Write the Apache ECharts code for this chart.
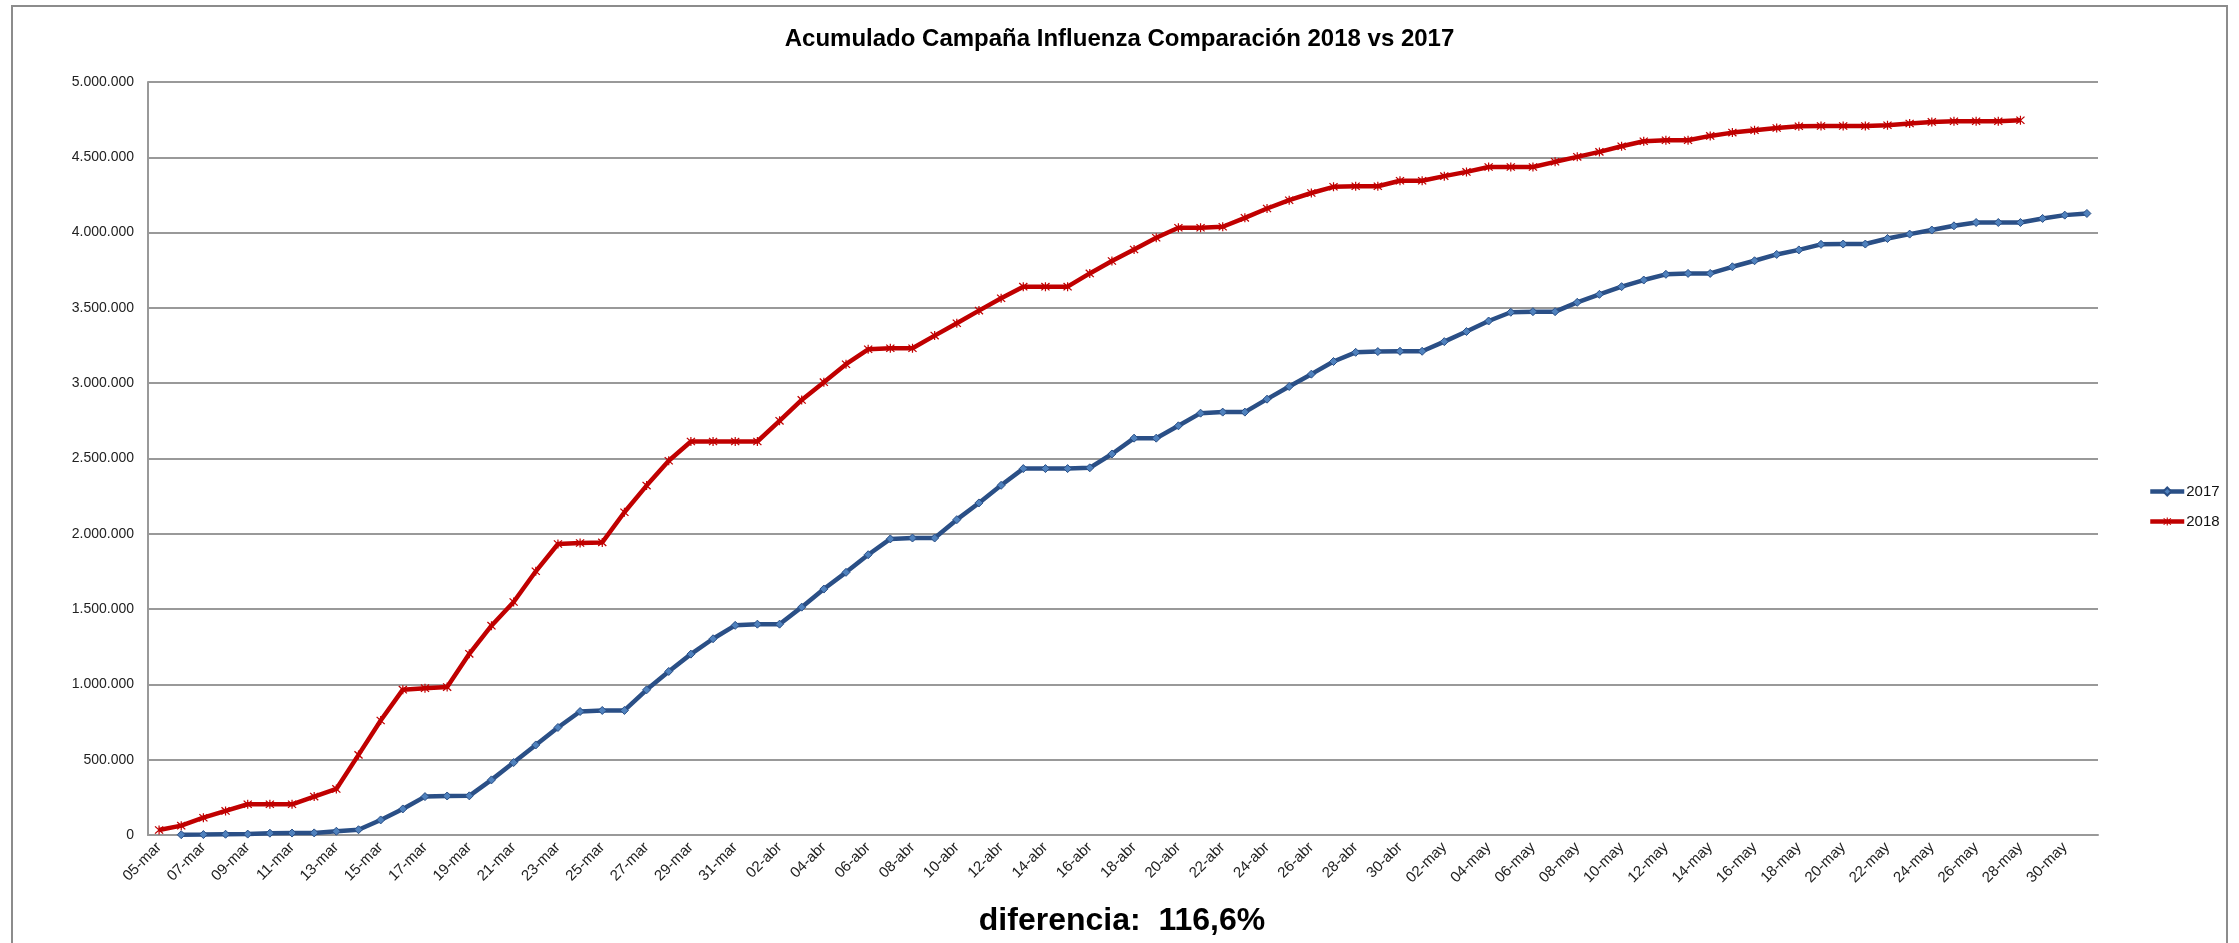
<!DOCTYPE html>
<html>
<head>
<meta charset="utf-8">
<script src="https://cdn.jsdelivr.net/npm/echarts@6/dist/echarts.min.js"></script>
<style>
  html, body { margin: 0; padding: 0; background: #fff; }
  #chart { width: 2239px; height: 943px; }
</style>
</head>
<body>
<div id="chart"></div>
<script>
// Days 05-mar .. 31-may, one category per day
const months = [ [ 'mar', 5, 31 ], [ 'abr', 1, 30 ], [ 'may', 1, 31 ] ];
const days = [];
months.forEach( ( [ name, from, to ] ) => {
  for ( let d = from; d <= to; d++ )
    days.push( ( d < 10 ? '0' : '' ) + d + '-' + name );
} );

// 2017 starts on 06-mar
const values2017 = [
  null, 2000, 3000, 5000, 6000, 12000, 13000, 14000, 25000, 35000,
  100000, 173000, 255000, 259000, 260000, 366000, 481000, 598000, 714000, 820000,
  827000, 827000, 964000, 1086000, 1201000, 1303000, 1392000, 1400000, 1400000, 1513000,
  1633000, 1744000, 1861000, 1966000, 1972000, 1972000, 2094000, 2205000, 2322000, 2433000,
  2433000, 2433000, 2438000, 2530000, 2635000, 2635000, 2717000, 2801000, 2808000, 2808000,
  2894000, 2978000, 3060000, 3144000, 3205000, 3210000, 3212000, 3212000, 3276000, 3343000,
  3413000, 3471000, 3475000, 3475000, 3537000, 3590000, 3641000, 3685000, 3723000, 3729000,
  3729000, 3773000, 3813000, 3855000, 3885000, 3922000, 3924000, 3924000, 3961000, 3990000,
  4017000, 4045000, 4067000, 4067000, 4067000, 4094000, 4116000, 4127000
];

// 2018 ends on 28-may
const values2018 = [
  33000, 62000, 115000, 160000, 204000, 204000, 204000, 255000, 306000, 532000,
  760000, 965000, 975000, 982000, 1203000, 1390000, 1547000, 1751000, 1932000, 1939000,
  1943000, 2143000, 2320000, 2485000, 2613000, 2613000, 2613000, 2613000, 2750000, 2889000,
  3007000, 3126000, 3225000, 3232000, 3232000, 3316000, 3398000, 3482000, 3564000, 3641000,
  3641000, 3641000, 3729000, 3811000, 3888000, 3966000, 4032000, 4032000, 4039000, 4098000,
  4160000, 4215000, 4263000, 4304000, 4308000, 4308000, 4344000, 4344000, 4375000, 4403000,
  4436000, 4436000, 4436000, 4470000, 4503000, 4536000, 4573000, 4607000, 4613000, 4613000,
  4642000, 4664000, 4680000, 4695000, 4706000, 4708000, 4708000, 4708000, 4713000, 4724000,
  4735000, 4739000, 4739000, 4739000, 4746000, null, null, null
];

const titleText = 'Acumulado Campaña Influenza Comparación 2018 vs 2017';
const noteText = 'diferencia:  116,6%';

const FONT = 'Liberation Sans';
const GRID_GRAY = '#999999';
const starPath = 'path://M4.4,0 L5.6,0 L5.6,10 L4.4,10 Z M0.5,1.4 L1.4,0.5 L9.5,8.6 L8.6,9.5 Z M8.6,0.5 L9.5,1.4 L1.4,9.5 L0.5,8.6 Z';

const dotted = ( v ) => String( v ).replace( /\B(?=(\d{3})+(?!\d))/g, '.' );

const chart = echarts.init( document.getElementById( 'chart' ) );

chart.setOption( {
  animation: false,
  backgroundColor: '#fff',
  title: {
    text: titleText,
    left: 'center',
    top: 22,
    textStyle: { fontFamily: FONT, fontSize: 24, fontWeight: 'bold', color: '#000' }
  },
  legend: {
    orient: 'vertical',
    left: 2143,
    top: 479,
    itemWidth: 34,
    itemHeight: 10,
    itemGap: 15,
    lineStyle: { width: 4.5 },
    textStyle: { fontFamily: FONT, fontSize: 15, color: '#111', padding: [ 0, 0, 0, -3 ] },
    data: [ '2017', '2018' ]
  },
  grid: { left: 148, right: 141, top: 82, bottom: 108, containLabel: false },
  xAxis: {
    type: 'category',
    data: days,
    boundaryGap: true,
    axisLine: { lineStyle: { color: GRID_GRAY, width: 2 } },
    axisTick: { show: false },
    axisLabel: {
      interval: 1,
      rotate: 45,
      margin: 10,
      fontFamily: FONT,
      fontSize: 15,
      color: '#222'
    }
  },
  yAxis: {
    type: 'value',
    min: 0,
    max: 5000000,
    interval: 500000,
    axisLine: { show: true, lineStyle: { color: GRID_GRAY, width: 2 } },
    axisTick: { show: false },
    splitLine: { lineStyle: { color: GRID_GRAY, width: 2 } },
    axisLabel: {
      margin: 14,
      fontFamily: FONT,
      fontSize: 14,
      color: '#222',
      formatter: dotted
    }
  },
  series: [
    {
      name: '2017',
      type: 'line',
      data: values2017,
      symbol: 'diamond',
      symbolSize: 8,
      showAllSymbol: true,
      lineStyle: { color: '#2a4f86', width: 4.5 },
      itemStyle: { color: '#4f81bd', borderColor: '#2a4f86', borderWidth: 1 }
    },
    {
      name: '2018',
      type: 'line',
      data: values2018,
      symbol: starPath,
      symbolSize: 9,
      showAllSymbol: true,
      lineStyle: { color: '#c00000', width: 4.5 },
      itemStyle: { color: '#c00000' }
    }
  ],
  graphic: [
    {
      type: 'rect',
      shape: { x: 12, y: 6, width: 2215, height: 1000 },
      style: { fill: 'none', stroke: '#8c8c8c', lineWidth: 2 },
      silent: true
    },
    {
      type: 'text',
      x: 1122,
      y: 921,
      style: {
        text: noteText,
        fontFamily: FONT,
        fontSize: 32,
        fontWeight: 'bold',
        fill: '#000',
        align: 'center',
        verticalAlign: 'middle'
      }
    }
  ]
} );
</script>
</body>
</html>
